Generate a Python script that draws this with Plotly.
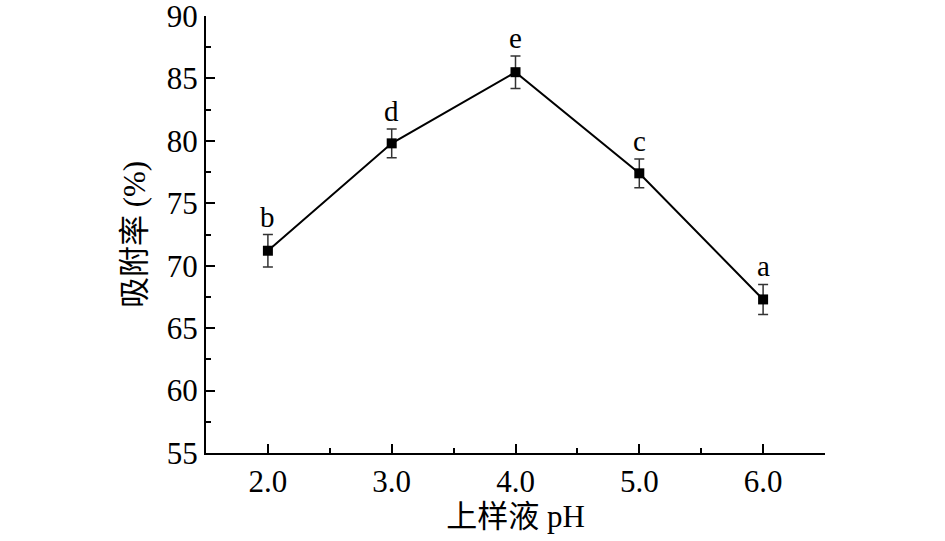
import plotly.graph_objects as go

ph = [2.0, 3.0, 4.0, 5.0, 6.0]
adsorption = [71.2, 79.8, 85.5, 77.4, 67.3]
error = [1.3, 1.15, 1.3, 1.15, 1.2]
letters = ["b", "d", "e", "c", "a"]
x_ticks = [2.0, 3.0, 4.0, 5.0, 6.0]
x_ticklabels = ["2.0", "3.0", "4.0", "5.0", "6.0"]
y_ticks = [55, 60, 65, 70, 75, 80, 85, 90]

FONT = "Liberation Serif, Times New Roman, Noto Sans CJK SC, serif"
FS = 31

fig = go.Figure()
fig.add_trace(go.Scatter(
    x=ph, y=adsorption, mode="lines+markers",
    line=dict(color="black", width=2),
    marker=dict(symbol="square", size=10, color="black"),
    error_y=dict(type="data", array=error, visible=True, color="#333333", thickness=1.5, width=5),
    showlegend=False, cliponaxis=False,
))

for xv, yv, ev, lab in zip(ph, adsorption, error, letters):
    fig.add_annotation(x=xv, y=yv + ev, text=lab, showarrow=False,
                       yanchor="bottom", yshift=0,
                       font=dict(family=FONT, size=29, color="black"))

fig.update_layout(
    width=945, height=541,
    margin=dict(l=206, r=120, t=16, b=88),
    paper_bgcolor="white", plot_bgcolor="white",
    font=dict(family=FONT, size=FS, color="black"),
)
fig.update_xaxes(
    range=[1.5, 6.5], tickvals=x_ticks, ticktext=x_ticklabels,
    showline=True, linecolor="black", linewidth=2, mirror=False,
    ticks="inside", ticklen=9, tickwidth=2, tickcolor="black",
    minor=dict(ticks="inside", dtick=0.5, tick0=1.5, ticklen=5, tickwidth=2, tickcolor="black"),
    showgrid=False, zeroline=False, automargin=False, ticklabeloverflow="allow",
    tickfont=dict(family=FONT, size=FS),
    title=dict(text="上样液 pH", font=dict(family=FONT, size=FS), standoff=4),
)
fig.update_yaxes(
    range=[55, 90], tickvals=y_ticks,
    showline=True, linecolor="black", linewidth=2, mirror=False,
    ticks="inside", ticklen=9, tickwidth=2, tickcolor="black",
    minor=dict(ticks="inside", dtick=2.5, tick0=55, ticklen=5, tickwidth=2, tickcolor="black"),
    showgrid=False, zeroline=False, automargin=False, ticklabeloverflow="allow",
    tickfont=dict(family=FONT, size=FS),
    title=dict(text="吸附率 (%)", font=dict(family=FONT, size=FS), standoff=12),
)

fig.write_html("out.html", config={"displayModeBar": False},
               post_script="document.body.style.margin='0';")
